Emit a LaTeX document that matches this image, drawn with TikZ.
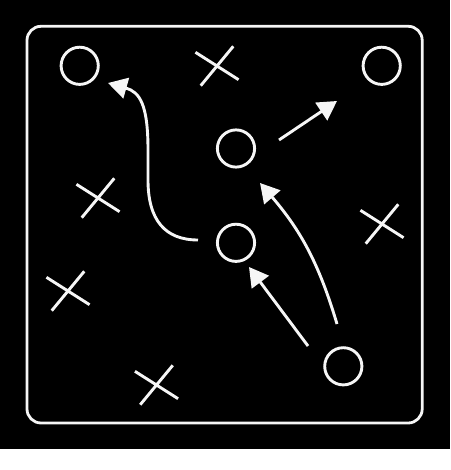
\documentclass[tikz,border=0pt]{standalone}
\usetikzlibrary{
	arrows.meta,shapes.misc,positioning
}
\definecolor{chalk}{RGB}{246,246,246}
\tikzset{
	player/.style={
		circle, minimum size=37.2pt, inner sep=0pt,
		draw=chalk, line width=2.9pt
	},
	%
	defender/.style={
		cross out, minimum width=35.4pt, minimum height=30.9pt,
		inner sep=0pt, rotate=9, draw=chalk, line width=2.9pt
	},
	%
	run/.style={
		draw=chalk, line width=2.9pt,
		-{Triangle[length=19pt,width=21pt,fill=chalk]}
	},
	%
	board/.style={
		draw=chalk, line width=2.8pt, rounded corners=14pt
	}
}

\begin{document}
\begin{tikzpicture}[x=1pt,y=-1pt]
    \useasboundingbox (0,0) rectangle (450,470);
    \fill[black] (0,0) rectangle (450,449);
    \fill[white] (0,449) rectangle (450,470);
    \draw[board] (27,26.3) rectangle (422.2,423);
    % offence
    \node(Otl)[player] at (79.7,65.8){};
    \node(Otr)[player] at (381.7,65.8){};
    \node(Omid)[player] at (236,148.5){};
    \node(Olow)[player] at (236,242.8){};
    \node(Obot)[player] at (343.3,366.3){};
    % defence
    \node(Xtop)[defender] at (217,66){};
    \node(Xleft)[defender] at (98,198){};
    \node(Xright)[defender] at (382,224){};
    \node(Xlow)[defender] at (68,291){};
    \node(Xbot)[defender] at (156.5,385){};
    % runs
    \coordinate(runA) at (198,240);
    \coordinate(runAend) at (108,83);
    \draw[run] (runA) .. controls (165,240) and (148,220) .. (148,180) -- (148,150)
        .. controls (148,105) and (140,92) .. (runAend);
    \coordinate(runB) at (279,140);
    \coordinate(runBend) at (337,101);
    \draw[run] (runB) -- (runBend);
    \coordinate(runC) at (337,324);
    \coordinate(runCend) at (260,183);
    \draw[run] (runC) to[bend right=12] (runCend);
    \coordinate(runD) at (308,346);
    \coordinate(runDend) at (249,267);
    \draw[run] (runD) -- (runDend);
\end{tikzpicture}
\end{document}
